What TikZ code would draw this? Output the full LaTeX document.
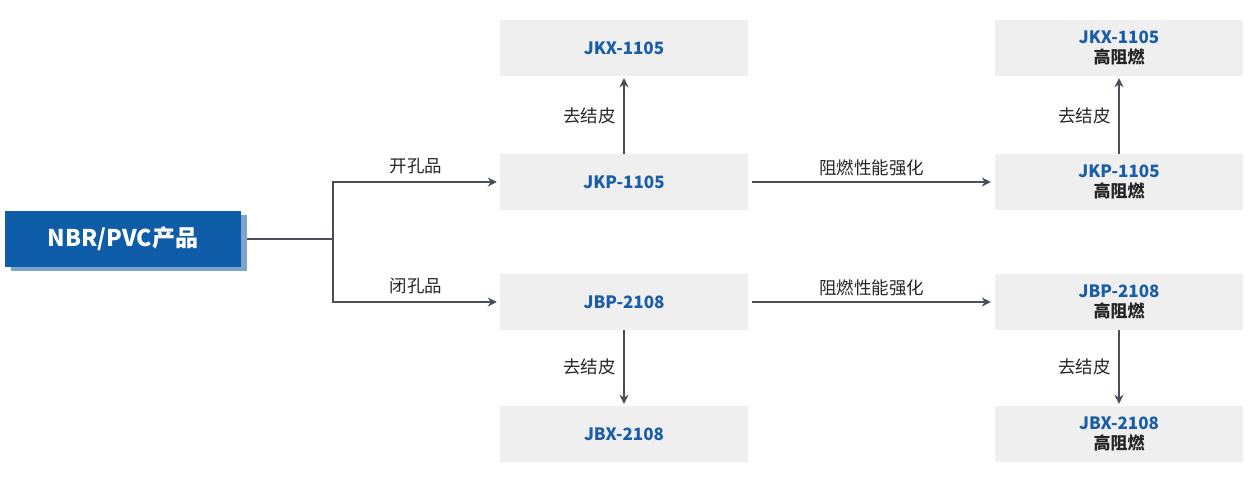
\documentclass[tikz,border=0pt]{standalone}
\usepackage{fontspec}
\setmainfont{Noto Sans CJK SC}
\usetikzlibrary{arrows.meta}
\definecolor{mainblue}{HTML}{0F5CA8}
\definecolor{shadeblue}{HTML}{7DA3CF}
\definecolor{txtblue}{HTML}{1A5EA8}
\definecolor{boxgray}{HTML}{EFEFEF}
\definecolor{linegray}{HTML}{4A4E58}
\tikzset{
  prod/.style={fill=boxgray,minimum width=248pt,minimum height=56pt,inner sep=0pt,align=center,
    font=\bfseries\fontsize{17}{20}\selectfont,text=txtblue},
  conn/.style={draw=linegray,line width=1.6pt,-{Stealth[length=9pt,width=9pt]}},
  lbl/.style={font=\fontsize{17.5}{20}\selectfont,text=black!85}
}
\begin{document}
\begin{tikzpicture}[x=1pt,y=-1pt]
  \useasboundingbox (0,0) rectangle (1250,486);
  % main product
  \fill[shadeblue] (11,215) rectangle (247,271);
  \node[fill=mainblue,minimum width=236pt,minimum height=56pt,inner sep=0pt,text=white,
    font=\bfseries\fontsize{23}{26}\selectfont] (nbr) at (123,239) {NBR/PVC产品};
  % product boxes
  \node[prod] (jkx) at (624,48) {JKX-1105};
  \node[prod] (jkp) at (624,182) {JKP-1105};
  \node[prod] (jbp) at (624,302) {JBP-2108};
  \node[prod] (jbx) at (624,434) {JBX-2108};
  \node[prod] (jkxh) at (1119,48) {JKX-1105\\{\color{black!85}高阻燃}};
  \node[prod] (jkph) at (1119,182) {JKP-1105\\{\color{black!85}高阻燃}};
  \node[prod] (jbph) at (1119,302) {JBP-2108\\{\color{black!85}高阻燃}};
  \node[prod] (jbxh) at (1119,434) {JBX-2108\\{\color{black!85}高阻燃}};
  % branches
  \coordinate (split) at (333,239);
  \draw[draw=linegray,line width=1.6pt] (nbr.east) ++(6,0) -- (split);
  \draw[conn] (split) |- ([xshift=-3pt]jkp.west);
  \draw[conn] (split) |- ([xshift=-3pt]jbp.west);
  \node[lbl] at (416,166) {开孔品};
  \node[lbl] at (416,286) {闭孔品};
  % skin removal
  \draw[conn] (jkp.north) -- ([yshift=-2pt]jkx.south) node[lbl,midway,left=4pt] {去结皮};
  \draw[conn] (jbp.south) -- ([yshift=2pt]jbx.north) node[lbl,midway,left=4pt] {去结皮};
  \draw[conn] (jkph.north) -- ([yshift=-2pt]jkxh.south) node[lbl,midway,left=4pt] {去结皮};
  \draw[conn] (jbph.south) -- ([yshift=2pt]jbxh.north) node[lbl,midway,left=4pt] {去结皮};
  % flame retardant
  \draw[conn] ([xshift=4pt]jkp.east) -- ([xshift=-4pt]jkph.west) node[lbl,midway,above=2pt] {阻燃性能强化};
  \draw[conn] ([xshift=4pt]jbp.east) -- ([xshift=-4pt]jbph.west) node[lbl,midway,above=2pt] {阻燃性能强化};
\end{tikzpicture}
\end{document}
